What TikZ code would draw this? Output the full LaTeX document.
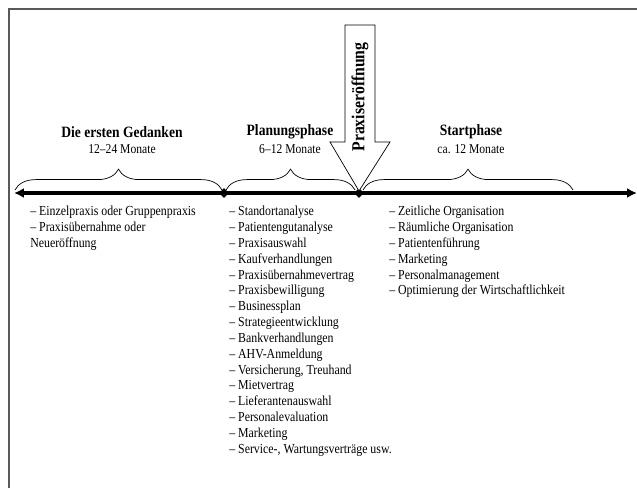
\documentclass[tikz,border=0pt]{standalone}
\usepackage{fontspec}
\setmainfont[FakeStretch=0.86]{Liberation Serif}
\usetikzlibrary{arrows.meta,shapes.geometric,decorations.pathreplacing}

\begin{document}
\begin{tikzpicture}[x=0.025cm,y=0.025cm,
 phase/.style={font=\bfseries\fontsize{11.2}{13}\selectfont,inner sep=0pt},
 period/.style={font=\fontsize{9.6}{11}\selectfont,inner sep=0pt},
 items/.style={anchor=north west,align=left,inner sep=0pt,font=\fontsize{9.8}{11.25}\selectfont},
 knot/.style={diamond,fill,inner sep=0pt,minimum size=7pt},
 curly/.style={decorate,decoration={brace,amplitude=0.52cm},line width=0.5pt}]
 \useasboundingbox (0,0) rectangle (637,488);
 % frame
 \draw[gray!70!black,line width=1.4pt] (9,0) -- (9,479) -- (637,479);
 % time line
 \coordinate (start) at (14,295);
 \coordinate (end) at (637,295);
 \node[knot] (plan) at (224,295) {};
 \node[knot] (open) at (359,295) {};
 \draw[line width=2.5pt,{Latex[length=7pt,width=7pt]}-{Latex[length=7pt,width=7pt]}] (start) -- (end);
 % braces
 \draw[curly] (15,298) -- (222,298);
 \draw[curly] (226,298) -- (355,298);
 \draw[curly] (363,298) -- (573,298);
 % phases
 \node[phase] (ideas) at (122,356) {Die ersten Gedanken};
 \node[period] (ideast) at (122,339) {12–24 Monate};
 \node[phase] (planning) at (290,356) {Planungsphase};
 \node[period] (planningt) at (290,339) {6–12 Monate};
 \node[phase] (starting) at (471,356) {Startphase};
 \node[period] (startingt) at (471,339) {ca. 12 Monate};
 % opening
 \draw[fill=white,line width=0.5pt] (345,463) -- (375,463) -- (375,346) -- (390,346)
   -- (359,297) -- (330,346) -- (345,346) -- cycle;
 \node[phase,rotate=90,font=\bfseries\fontsize{13}{15}\selectfont] (opening) at (360,391) {Praxiseröffnung};
 % lists
 \node[items] (ideasl) at (30,282) {– Einzelpraxis oder Gruppenpraxis\\
   – Praxisübernahme oder\\Neueröffnung};
 \node[items] (planningl) at (229,282) {– Standortanalyse\\– Patientengutanalyse\\
   – Praxisauswahl\\– Kaufverhandlungen\\– Praxisübernahmevertrag\\
   – Praxisbewilligung\\– Businessplan\\– Strategieentwicklung\\
   – Bankverhandlungen\\– AHV-Anmeldung\\– Versicherung, Treuhand\\
   – Mietvertrag\\– Lieferantenauswahl\\– Personalevaluation\\
   – Marketing\\– Service-, Wartungsverträge usw.};
 \node[items] (startingl) at (389,282) {– Zeitliche Organisation\\
   – Räumliche Organisation\\– Patientenführung\\– Marketing\\
   – Personalmanagement\\– Optimierung der Wirtschaftlichkeit};
\end{tikzpicture}
\end{document}
